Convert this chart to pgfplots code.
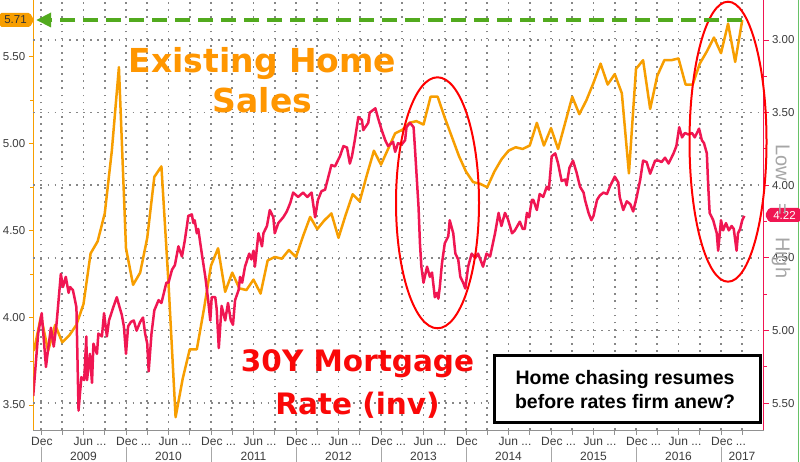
\documentclass[border=0pt]{standalone}
\usepackage{fontspec}
\setmainfont{Liberation Sans}
\newfontfamily\dejavu{DejaVu Sans}
\usepackage{pgfplots}
\pgfplotsset{compat=1.18}
\usepackage{pgfplotstable}

\definecolor{ehs}{RGB}{247,158,0}
\definecolor{ehstext}{RGB}{255,150,0}
\definecolor{mort}{RGB}{240,22,82}
\definecolor{mtext}{RGB}{250,8,8}
\definecolor{gridc}{RGB}{145,145,145}
\definecolor{dotc}{RGB}{135,135,135}
\definecolor{lab}{RGB}{60,60,60}
\definecolor{arrowg}{RGB}{82,170,30}
\newcommand\dd{.{}.{}.}

% Existing home sales (mn, SAAR), x = months since Dec 2008
\pgfplotstableread{
m v
-1 3.81
0 4.01
1 3.81
2 3.96
3 3.86
4 3.90
5 3.96
6 4.08
7 4.37
8 4.44
9 4.60
10 4.96
11 5.44
12 4.40
13 4.19
14 4.26
15 4.46
16 4.81
17 4.87
18 4.20
19 3.43
20 3.65
21 3.82
22 3.82
23 4.05
24 4.30
25 4.40
26 4.15
27 4.26
28 4.17
29 4.16
30 4.22
31 4.14
32 4.33
33 4.35
34 4.34
35 4.39
36 4.35
37 4.47
38 4.58
39 4.51
40 4.56
41 4.60
42 4.46
43 4.59
44 4.71
45 4.67
46 4.82
47 4.96
48 4.88
49 4.97
50 5.06
51 5.08
52 5.12
53 5.13
54 5.11
55 5.27
56 5.27
57 5.15
58 5.04
59 4.93
60 4.84
61 4.78
62 4.77
63 4.75
64 4.84
65 4.91
66 4.96
67 4.98
68 4.97
69 4.99
70 5.12
71 4.99
72 5.09
73 4.97
74 5.12
75 5.27
76 5.17
77 5.25
78 5.35
79 5.46
80 5.34
81 5.40
82 5.29
83 4.83
84 5.43
85 5.48
86 5.20
87 5.39
88 5.48
89 5.48
90 5.49
91 5.34
92 5.34
93 5.46
94 5.53
95 5.61
96 5.52
97 5.69
98 5.47
99 5.71
}\ehsdata

% 30Y mortgage rate (%), inverted right axis
\pgfplotstableread{
m v
-1.1 5.45
-0.4 5.02
0.1 4.88
0.7 5.25
1.0 5.13
1.4 4.98
1.8 5.11
2.2 4.95
2.8 4.61
3.1 4.70
3.5 4.63
3.9 4.74
4.1 4.70
4.5 4.72
4.8 4.79
5.0 4.84
5.3 5.55
5.7 5.32
6.1 5.34
6.4 5.04
6.5 5.34
6.9 5.16
7.2 5.36
7.4 5.09
7.9 5.16
8.1 5.02
8.6 5.04
8.9 4.88
9.3 5.04
9.6 4.93
10.2 4.84
10.7 4.77
11.1 4.84
11.4 4.89
11.7 4.97
12.0 5.16
12.3 4.97
12.7 4.94
13.1 4.93
13.5 5.00
14.0 4.94
14.4 4.91
14.7 5.02
15.0 5.09
15.2 5.28
15.6 5.02
16.0 4.86
16.6 4.79
17.0 4.81
17.7 4.67
18.0 4.67
18.5 4.58
18.9 4.55
19.4 4.42
19.9 4.49
20.3 4.38
20.6 4.28
20.8 4.21
21.3 4.20
21.5 4.26
21.7 4.24
22.0 4.33
22.2 4.30
22.7 4.47
23.2 4.63
23.6 4.79
23.9 4.93
24.1 4.77
24.6 4.77
24.8 4.85
25.1 5.12
25.5 4.83
26.0 4.93
26.4 4.81
26.8 4.93
27.1 4.96
27.4 4.79
27.9 4.72
28.1 4.63
28.4 4.67
28.8 4.56
29.4 4.47
29.7 4.51
30.0 4.45
30.2 4.56
30.7 4.33
31.2 4.42
31.4 4.33
31.9 4.28
32.3 4.17
32.8 4.22
33.0 4.33
33.5 4.26
34.2 4.22
34.7 4.18
35.2 4.12
35.6 4.05
36.3 4.08
37.0 4.05
37.6 4.08
38.2 4.05
38.4 4.12
38.7 4.22
39.1 4.10
39.6 4.04
40.1 4.03
41.0 3.86
41.5 3.87
42.2 3.80
42.7 3.73
43.2 3.74
43.6 3.85
43.9 3.80
44.3 3.69
44.8 3.53
45.3 3.55
45.5 3.62
46.2 3.57
46.4 3.50
47.2 3.47
47.6 3.54
48.1 3.62
48.6 3.69
49.0 3.73
49.7 3.70
50.0 3.77
50.4 3.71
50.9 3.72
51.4 3.69
51.6 3.60
52.1 3.57
52.6 3.60
52.8 3.75
53.3 4.15
53.5 4.40
53.7 4.56
54.0 4.67
54.5 4.56
54.9 4.63
55.2 4.60
55.6 4.77
55.9 4.74
56.1 4.78
56.3 4.70
56.6 4.54
57.0 4.40
57.5 4.35
57.7 4.24
58.2 4.33
58.5 4.47
58.9 4.51
59.2 4.63
59.6 4.67
59.9 4.71
60.3 4.56
60.8 4.47
61.3 4.50
61.7 4.47
62.1 4.52
62.4 4.56
62.9 4.47
63.4 4.49
64.1 4.33
64.6 4.19
65.0 4.28
65.5 4.19
65.9 4.23
66.5 4.33
66.9 4.31
67.6 4.25
68.0 4.30
68.3 4.30
68.6 4.19
68.9 4.22
69.3 4.10
69.5 4.10
70.0 4.17
70.4 4.06
70.9 4.08
71.4 4.01
71.7 4.03
72.1 3.80
72.6 3.78
73.0 3.85
73.5 3.97
74.0 3.96
74.2 4.00
74.6 3.88
75.1 3.83
75.6 3.91
76.1 4.01
76.6 4.05
76.8 4.10
77.3 4.19
77.7 4.24
78.0 4.21
78.5 4.10
78.9 4.07
79.4 4.05
79.9 4.06
80.3 4.01
81.0 3.94
81.5 3.98
81.7 4.08
82.2 4.17
82.7 4.11
83.2 4.13
83.6 4.18
84.1 4.08
84.6 3.96
85.0 3.83
85.5 3.84
86.0 3.92
86.7 3.83
87.2 3.83
87.6 3.84
88.1 3.81
88.6 3.85
89.3 3.78
89.7 3.73
90.1 3.60
90.5 3.67
90.9 3.64
91.4 3.65
91.9 3.64
92.3 3.67
92.7 3.63
92.9 3.61
93.3 3.69
93.6 3.71
94.0 3.78
94.2 4.01
94.4 4.19
94.9 4.24
95.4 4.33
95.6 4.45
96.0 4.24
96.3 4.31
96.7 4.26
97.1 4.31
97.5 4.28
97.8 4.30
98.2 4.45
98.4 4.33
98.7 4.30
99.0 4.24
99.3 4.21
}\mortdata

\begin{document}
\begin{tikzpicture}
\useasboundingbox (0,0) rectangle (800bp,462bp);
\fill[white] (0,0) rectangle (800bp,462bp);

% ---------- left axis: existing home sales ----------
\begin{axis}[
  at={(33.3bp,32bp)}, anchor=south west, scale only axis,
  width=730.2bp, height=430bp,
  xmin=-1.087, xmax=102.0, ymin=3.3565, ymax=5.8255,
  axis x line*=bottom, axis y line*=left,
  x axis line style={gridc, line width=1bp},
  y axis line style={ehs, line width=1bp},
  xtick={0,3,...,99}, xticklabels={},
  xtick style={gridc, line width=0.8bp},
  xmajorgrids,
  ytick={3.5,4,4.5,5,5.5},
  minor ytick={3.75,4.25,4.75,5.25},
  ytick style={ehs, line width=1bp},
  tick align=outside,
  major tick length=4.5bp, minor tick length=3bp,
  /pgf/number format/assume math mode=true,
  yticklabel style={/pgf/number format/fixed, /pgf/number format/fixed zerofill,
    /pgf/number format/precision=2, font=\fontsize{11.5bp}{13bp}\selectfont, text=lab},
  extra y ticks={5.596,5.179,4.762,4.345,3.928,3.511},
  extra y tick labels={},
  extra y tick style={ymajorgrids=true, ytick style={draw=none}},
  major grid style={dotc, line width=1.7bp, dash pattern=on 1.7bp off 5.4bp},
]
\addplot[ehs, line width=2.5bp, line join=round] table[x=m, y=v] {\ehsdata};
\end{axis}

% ---------- right axis: 30Y mortgage rate, inverted ----------
\begin{axis}[
  at={(33.3bp,32bp)}, anchor=south west, scale only axis,
  width=730.2bp, height=430bp,
  xmin=-1.087, xmax=102.0, ymin=2.7247, ymax=5.6838, y dir=reverse,
  axis x line=none, axis y line*=right, xtick=\empty,
  y axis line style={mort, line width=1bp},
  ytick={3,3.5,4,4.5,5,5.5},
  minor ytick={3.25,3.75,4.25,4.75,5.25},
  ytick style={mort, line width=1bp},
  tick align=outside,
  major tick length=5bp, minor tick length=3bp,
  /pgf/number format/assume math mode=true,
  yticklabel style={/pgf/number format/fixed, /pgf/number format/fixed zerofill,
    /pgf/number format/precision=2, font=\fontsize{11.5bp}{13bp}\selectfont, text=lab},
]
\addplot[mort, line width=2.5bp, line join=round] table[x=m, y=v] {\mortdata};
\end{axis}

% ---------- date labels ----------
\foreach \m/\t in {0/{Dec}, 6/{Jun \dd}, 12/{Dec \dd}, 18/{Jun \dd}, 24/{Dec \dd}, 30/{Jun \dd}, 36/{Dec \dd},
  42/{Jun \dd}, 48/{Dec \dd}, 54/{Jun \dd}, 60/{Dec}, 66/{Jun \dd}, 72/{Dec \dd}, 78/{Jun \dd}, 84/{Dec \dd},
  90/{Jun \dd}, 96/{Dec \dd}}
  \node[anchor=base west, inner sep=0pt, text=lab, font=\fontsize{12bp}{13bp}\selectfont]
    at ({41bp+\m*7.0833bp-10bp},17bp) {\t};
\foreach \k/\y in {0/2009,1/2010,2/2011,3/2012,4/2013,5/2014,6/2015,7/2016}
  \node[anchor=base, inner sep=0pt, text=lab, font=\fontsize{12bp}{13bp}\selectfont]
    at ({83.5bp+\k*85bp},2bp) {\y};
\node[anchor=base, inner sep=0pt, text=lab, font=\fontsize{12bp}{13bp}\selectfont] at (742bp,2bp) {2017};
\foreach \k in {0,1,2,3,4,5,6,7,8}
  \draw[gridc!80, line width=1bp] ({41bp+\k*85bp},15bp) -- ({41bp+\k*85bp},0bp);

% ---------- right border ----------
\draw[green!60!black!60, line width=0.8bp] (798.5bp,0bp) -- (798.5bp,462bp);

% ---------- ellipses ----------
\draw[red, line width=2bp] (437.5bp,259.2bp) ellipse [x radius=41.5bp, y radius=125.5bp];
\draw[red, line width=2bp] (728bp,320.3bp) ellipse [x radius=38.5bp, y radius=140bp];

% ---------- green arrow at 5.71 ----------
\draw[arrowg, line width=4bp, dash pattern=on 15bp off 8bp] (742bp,442bp) -- (50bp,442bp);
\fill[arrowg] (36.5bp,442bp) -- (51bp,449.5bp) -- (51bp,434.5bp) -- cycle;

% ---------- value flags ----------
\fill[ehs, rounded corners=1.5bp] (0bp,435bp) -- (30bp,435bp) -- (34bp,442bp) -- (30bp,449bp) -- (0bp,449bp) -- cycle;
\node[text=black!80, font=\fontsize{11.5bp}{12bp}\selectfont, inner sep=0pt] at (15.5bp,442bp) {5.71};
\fill[mort, rounded corners=1.5bp] (765bp,247bp) -- (769bp,254bp) -- (800bp,254bp) -- (800bp,240bp) -- (769bp,240bp) -- cycle;
\node[text=white, font=\fontsize{11.5bp}{12bp}\selectfont, inner sep=0pt] at (784.5bp,247bp) {4.22};

% ---------- Low = High ----------
\node[rotate=-90, text=black!35, font=\fontsize{20bp}{20bp}\selectfont, inner sep=0pt]
  at (781bp,250.5bp) {Low\hspace{22bp}=\hspace{22bp}High};

% ---------- big annotations ----------
\node[anchor=base, inner sep=0pt, text=ehstext, font=\dejavu\bfseries\fontsize{33bp}{33bp}\selectfont]
  at (262.5bp,389bp) {Existing Home};
\node[anchor=base, inner sep=0pt, text=ehstext, font=\dejavu\bfseries\fontsize{33bp}{33bp}\selectfont]
  at (262.5bp,349bp) {Sales};
\node[anchor=base, inner sep=0pt, text=mtext, font=\dejavu\bfseries\fontsize{29.5bp}{30bp}\selectfont]
  at (357.5bp,90.3bp) {30Y Mortgage};
\node[anchor=base, inner sep=0pt, text=mtext, font=\dejavu\bfseries\fontsize{29.5bp}{30bp}\selectfont]
  at (357.5bp,47bp) {Rate (inv)};

% ---------- text box ----------
\draw[black, line width=3bp, fill=white] (494bp,39bp) rectangle (760bp,106bp);
\node[anchor=base, inner sep=0pt, font=\bfseries\fontsize{19.5bp}{20bp}\selectfont]
  at (625bp,77bp) {Home chasing resumes};
\node[anchor=base, inner sep=0pt, font=\bfseries\fontsize{19.5bp}{20bp}\selectfont]
  at (625bp,53.7bp) {before rates firm anew?};
\end{tikzpicture}
\end{document}
